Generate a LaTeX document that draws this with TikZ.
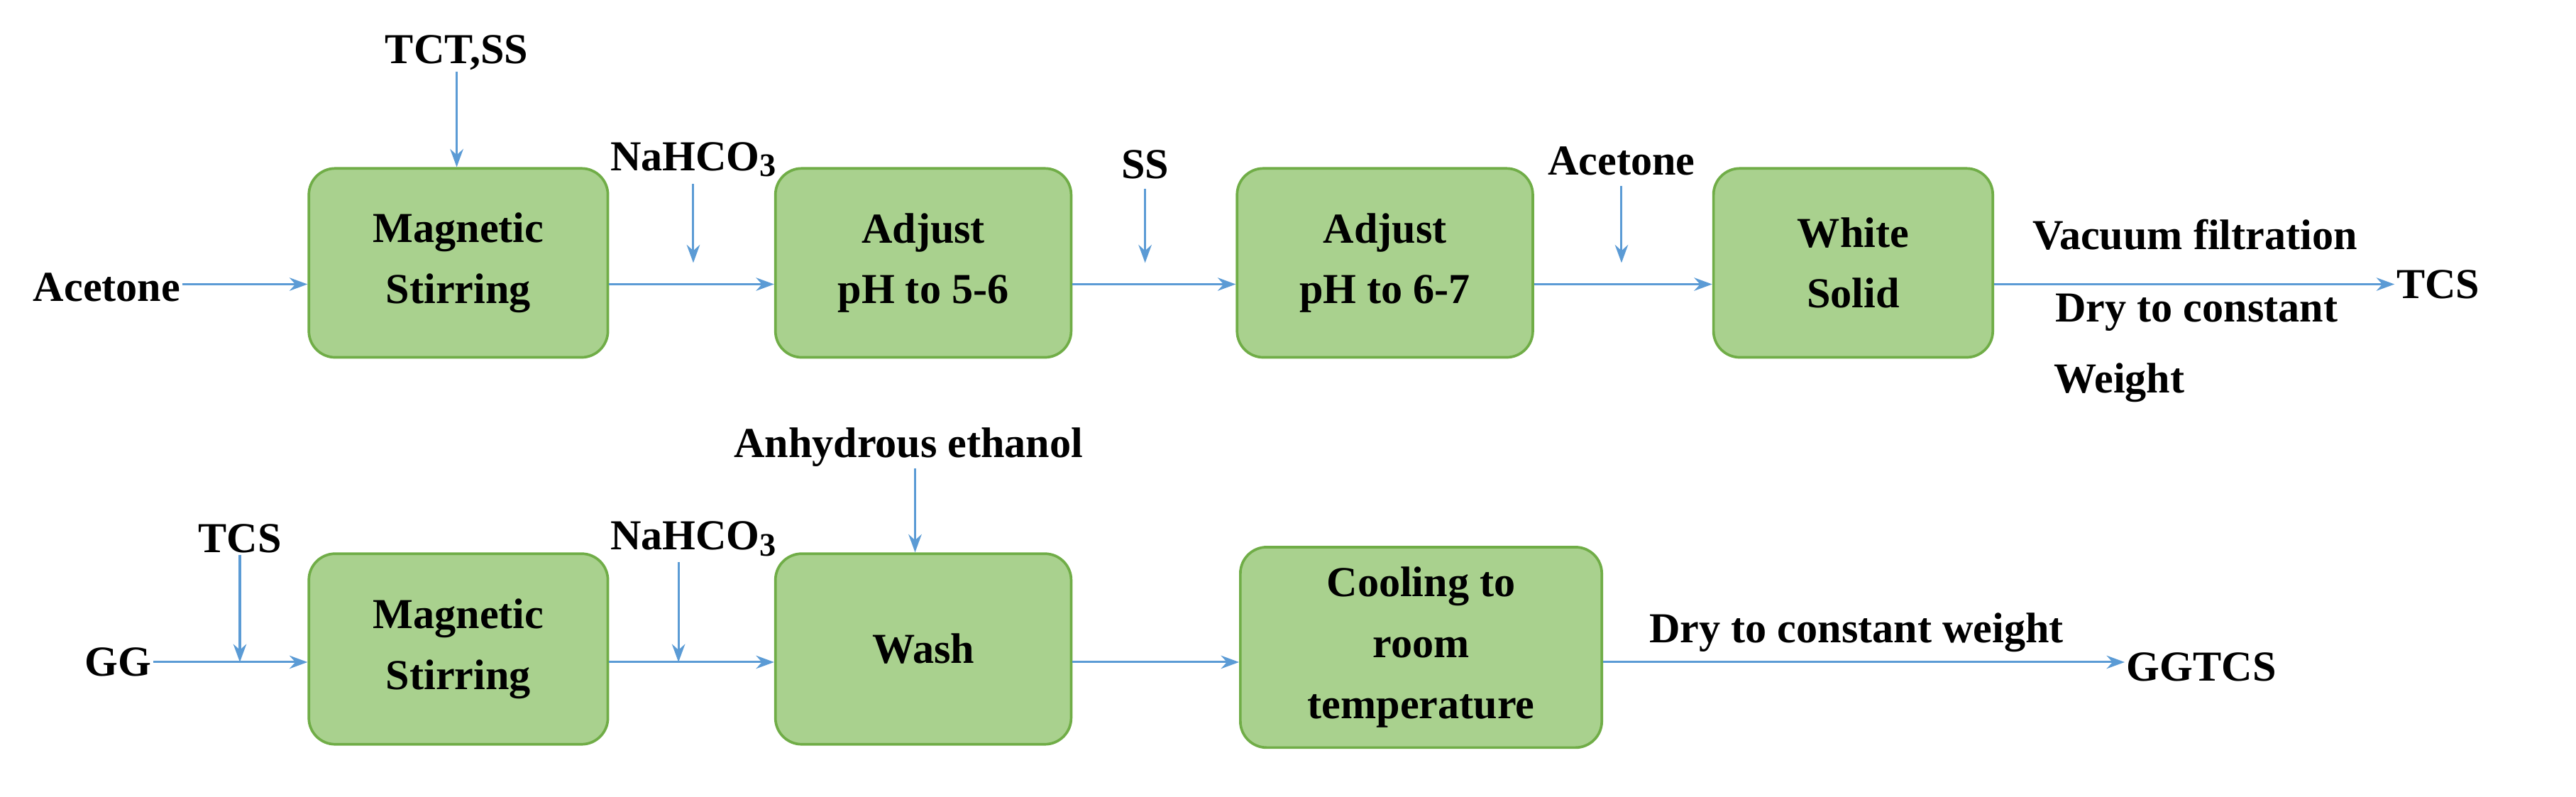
\documentclass[tikz,border=0pt]{standalone}
\usepackage{fontspec}
\setmainfont{Liberation Serif}
\usetikzlibrary{arrows.meta}
\definecolor{boxfill}{HTML}{A9D18E}
\definecolor{boxline}{HTML}{70AD47}
\definecolor{arr}{HTML}{5B9BD5}
\newcommand{\subthree}{\raisebox{-0.3ex}{\fontsize{20}{20}\selectfont 3}}
\begin{document}
\begin{tikzpicture}[x=1pt,y=-1pt,
  box/.style={draw=boxline,line width=1.6pt,fill=boxfill,rounded corners=16pt,font=\bfseries\fontsize{26}{37}\selectfont,align=center,inner sep=0pt},
  lbl/.style={font=\bfseries\fontsize{26}{32}\selectfont,inner sep=1pt},
  ar/.style={draw=arr,line width=1.3pt,-{Stealth[length=11pt,width=8pt]}}]
\useasboundingbox (0,0) rectangle (1568,485);
% row 1
\node[box,minimum width=182,minimum height=115] (m1) at (279,160) {Magnetic\\Stirring};
\node[box,minimum width=180,minimum height=115] (a1) at (562,160) {Adjust\\pH to 5-6};
\node[box,minimum width=180,minimum height=115] (a2) at (843,160) {Adjust\\pH to 6-7};
\node[box,minimum width=170,minimum height=115] (w) at (1128,160) {White\\Solid};
\node[lbl] (ac) at (65,175) {Acetone};
\node[lbl] (tct) at (278,32) {TCT,SS};
\node[lbl] (na1) at (422,97) {NaHCO\subthree};
\node[lbl] (ss) at (697,100) {SS};
\node[lbl] (ac2) at (987,98) {Acetone};
\node[lbl] (vf) at (1336,143) {Vacuum filtration};
\node[lbl] (dc) at (1337,190) {Dry to constant};
\node[lbl] (wt) at (1290,233) {Weight};
\node[lbl] (tcs) at (1484,173) {TCS};
\draw[ar] (ac.east |- 0,173) -- (m1.west |- 0,173);
\draw[ar] (tct.south) -- (m1.north -| tct.south);
\draw[ar] (m1.east |- 0,173) -- (a1.west |- 0,173);
\draw[ar] (a1.east |- 0,173) -- (a2.west |- 0,173);
\draw[ar] (a2.east |- 0,173) -- (w.west |- 0,173);
\draw[ar] (w.east |- 0,173) -- (tcs.west);
\coordinate (p1) at (422,160); \draw[ar] (422,112) -- (p1);
\coordinate (p2) at (697,160); \draw[ar] (697,115) -- (p2);
\coordinate (p3) at (987,160); \draw[ar] (987,113) -- (p3);
% row 2
\node[box,minimum width=182,minimum height=116] (m2) at (279,395) {Magnetic\\Stirring};
\node[box,minimum width=180,minimum height=116] (wa) at (562,395) {Wash};
\node[box,minimum width=220,minimum height=122] (co) at (865,394) {\fontsize{26}{36}\selectfont Cooling to\\room\\temperature};
\node[lbl] (gg) at (72,403) {GG};
\node[lbl] (tcs2) at (146,328) {TCS};
\node[lbl] (na2) at (422,328) {NaHCO\subthree};
\node[lbl] (an) at (553,272) {Anhydrous ethanol};
\node[lbl] (dw) at (1130,385) {Dry to constant weight};
\node[lbl] (gt) at (1340,406) {GGTCS};
\draw[ar] (gg.east |- 0,403) -- (m2.west |- 0,403);
\draw[ar] (m2.east |- 0,403) -- (wa.west |- 0,403);
\draw[ar] (wa.east |- 0,403) -- (co.west |- 0,403);
\draw[ar] (co.east |- 0,403) -- (gt.west |- 0,403);
\coordinate (q1) at (146,403); \draw[ar] (tcs2.south) -- (q1);
\coordinate (q2) at (413,403); \draw[ar] (413,342) -- (q2);
\draw[ar] (an.south -| 557,0) -- (wa.north -| 557,0);
\end{tikzpicture}
\end{document}
